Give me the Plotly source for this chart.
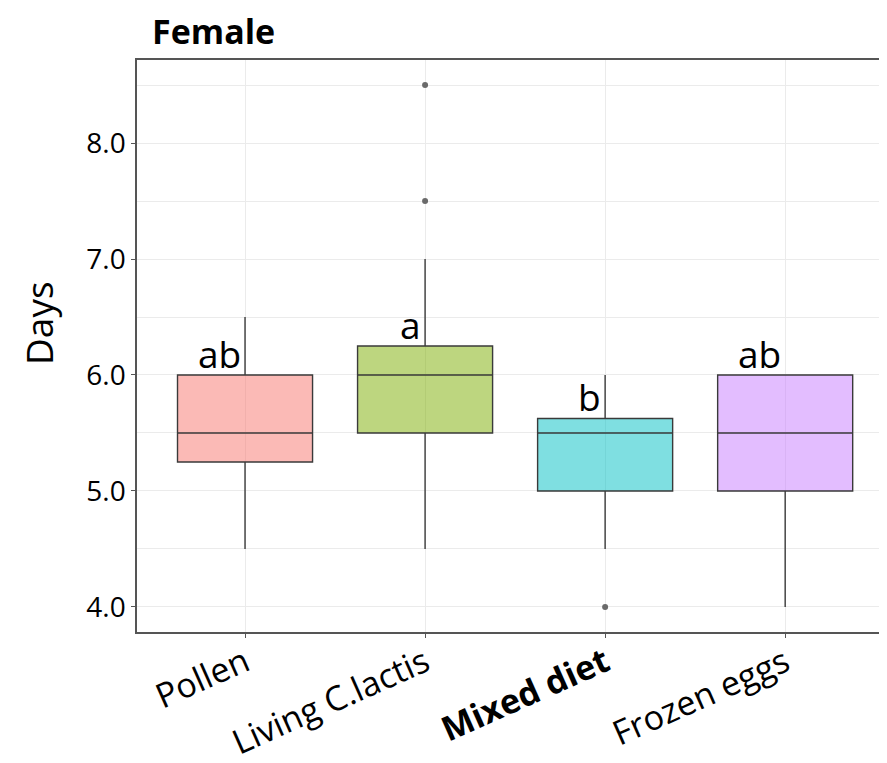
import plotly.graph_objects as go

categories = ["Pollen", "Living C.lactis", "Mixed diet", "Frozen eggs"]
tick_text = ["Pollen", "Living C.lactis", "<b>Mixed diet</b>", "Frozen eggs"]
q1 = [5.25, 5.5, 5.0, 5.0]
median = [5.5, 6.0, 5.5, 5.5]
q3 = [6.0, 6.25, 5.625, 6.0]
lower = [4.5, 4.5, 4.5, 4.0]
upper = [6.5, 7.0, 6.0, 6.0]
outlier_x = [1, 1, 2]
outlier_y = [7.5, 8.5, 4.0]
letters = ["ab", "a", "b", "ab"]
fills = ["rgba(248,118,109,0.5)", "rgba(124,174,0,0.5)",
         "rgba(0,191,196,0.5)", "rgba(199,124,255,0.5)"]

FONT = "Open Sans"
W, H = 887, 763
L, T, R, B = 129, 52, 0, 139
PW, PH = W - L - R, H - T - B

fig = go.Figure()
for i, c in enumerate(categories):
    fig.add_trace(go.Box(
        x=[i], q1=[q1[i]], median=[median[i]], q3=[q3[i]],
        lowerfence=[lower[i]], upperfence=[upper[i]],
        width=0.75, fillcolor=fills[i],
        line=dict(color="#3a3a3a", width=1.4),
        whiskerwidth=0, boxpoints=False, showlegend=False,
    ))

fig.add_trace(go.Scatter(
    x=outlier_x, y=outlier_y, mode="markers",
    marker=dict(color="#6a6a6a", size=6, symbol="circle"),
    showlegend=False,
))

for i, t in enumerate(letters):
    fig.add_annotation(x=i, y=q3[i], text=t, showarrow=False,
                       xanchor="right", yanchor="bottom", xshift=-2, yshift=-6,
                       font=dict(family=FONT, size=37, color="black"))

fig.add_annotation(xref="paper", yref="paper",
                   x=(30 - L) / PW, y=1 - (315 - T) / PH,
                   text="Days", textangle=-90, showarrow=False,
                   xanchor="center", yanchor="middle",
                   font=dict(family=FONT, size=37, color="black"))

fig.update_layout(
    width=W, height=H,
    margin=dict(l=L, r=R, t=T, b=B, autoexpand=False),
    plot_bgcolor="white", paper_bgcolor="white",
    font=dict(family=FONT, color="black"),
    title=dict(text="<b>Female</b>", x=144 / W, xanchor="left",
               xref="container", y=1 - 24 / H, yanchor="middle",
               yref="container", font=dict(family=FONT, size=34, color="black")),
)
fig.update_xaxes(
    range=[-0.6, 3.61], tickvals=[0, 1, 2, 3], ticktext=tick_text,
    tickangle=-24, tickfont=dict(family=FONT, size=34, color="black"),
    ticklabelstandoff=-8,
    showgrid=True, gridcolor="#ebebeb", gridwidth=1,
    showline=True, linecolor="#555555", linewidth=1.5, mirror=True,
    ticks="outside", ticklen=4, tickcolor="#555555", zeroline=False,
    automargin=False,
)
fig.update_yaxes(
    range=[3.784, 8.716], tickvals=[4, 5, 6, 7, 8],
    ticktext=["4.0", "5.0", "6.0", "7.0", "8.0"],
    tickfont=dict(family=FONT, size=28, color="black"),
    minor=dict(tickvals=[4.5, 5.5, 6.5, 7.5, 8.5], showgrid=True,
               gridcolor="#ebebeb", gridwidth=1, ticks=""),
    showgrid=True, gridcolor="#ebebeb", gridwidth=1,
    showline=True, linecolor="#555555", linewidth=1.5,
    ticks="outside", ticklen=4, tickcolor="#555555", zeroline=False,
    automargin=False,
)

fig.write_html("out.html")
